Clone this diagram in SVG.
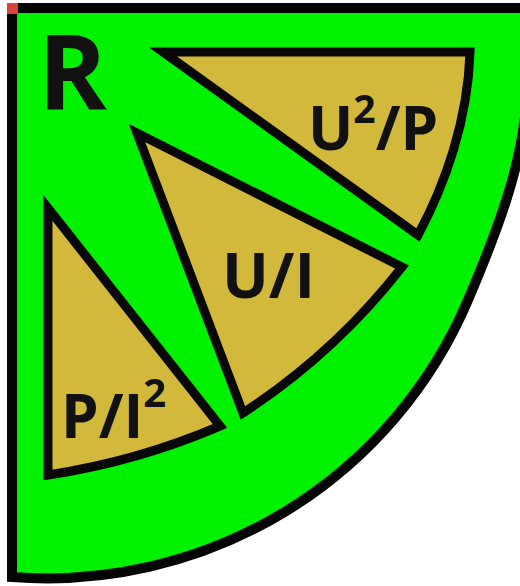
<svg xmlns="http://www.w3.org/2000/svg" width="520" height="586" viewBox="0 0 520 586">
<style>
.outer{fill:#00f200;stroke:#050505;stroke-width:10;stroke-linejoin:miter}
.tri{fill:#d2b93c;stroke:#080808;stroke-width:9;stroke-linejoin:miter}
.lbl{font-family:"Open Sans","Liberation Sans",sans-serif;font-weight:bold;fill:#111}
</style>
<rect x="0" y="0" width="520" height="586" fill="#ffffff"/>
<g id="sector">
<path class="outer" d="M12,577 V8 H534 L527,90 C525,160 497,232 468,300 A457,457 0 0 1 12,577 Z"/>
<rect x="7" y="3" width="11" height="11" fill="#d8433a"/>
<text class="lbl" x="38" y="110" font-size="104">R</text>
</g>
<g id="node-u2p">
<path class="tri" d="M163,52 L470,52 C468,120 445,185 418,235 Z"/>
<text class="lbl" x="308" y="150" font-size="60">U<tspan font-size="39" dy="-27">2</tspan><tspan dy="27">/P</tspan></text>
</g>
<g id="node-ui">
<path class="tri" d="M137,133 L402,267 Q334.7,353.2 243,413 Z"/>
<text class="lbl" x="222" y="298" font-size="62">U/I</text>
</g>
<g id="node-pi2">
<path class="tri" d="M48,208 L220,426 Q137.3,461.5 48,475 Z"/>
<text class="lbl" x="61" y="438" font-size="60">P/I<tspan font-size="40" dy="-31">2</tspan></text>
</g>
<g id="connectors"></g>
</svg>
